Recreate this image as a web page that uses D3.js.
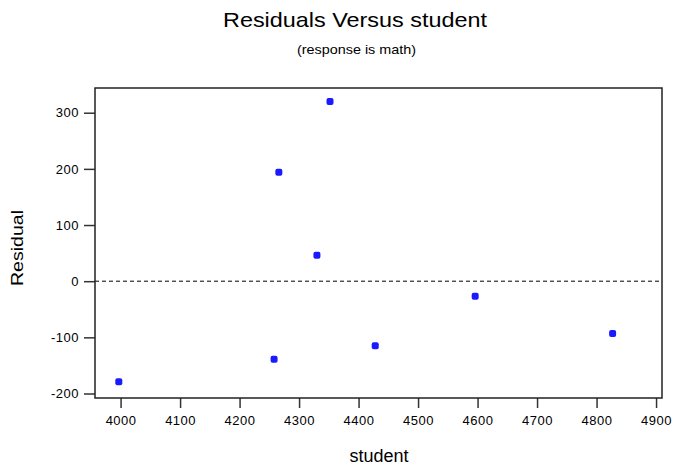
<!DOCTYPE html>
<html>
<head>
<meta charset="utf-8">
<script src="https://cdn.jsdelivr.net/npm/d3@7"></script>
<style>
  body { margin: 0; background: #fff; }
  svg { display: block; font-family: "Liberation Sans", Arial, sans-serif; }
</style>
</head>
<body>
<svg id="chart" width="675" height="471"></svg>
<script>
// data
var student = [3997, 4258, 4266, 4330, 4352, 4428, 4596, 4827];
var residual = [-179, -139, 194, 46, 320, -115, -27, -93];
var xTicks = [4000, 4100, 4200, 4300, 4400, 4500, 4600, 4700, 4800, 4900];
var yTicks = [-200, -100, 0, 100, 200, 300];

var svg = d3.select("#chart");

// plot box (window.top is reserved, so use other names)
var boxL = 95, boxR = 662, boxT = 88, boxB = 398;

var x = d3.scaleLinear().domain([3957, 4910]).range([boxL, boxR]);
var y = d3.scaleLinear().domain([-208, 344]).range([boxB, boxT]);

// titles - the original font runs wider than Arial, so stretch to width
svg.append("text")
  .attr("x", 223).attr("y", 27)
  .attr("textLength", 264)
  .attr("lengthAdjust", "spacingAndGlyphs")
  .style("font-size", "21px")
  .text("Residuals Versus student");

svg.append("text")
  .attr("x", 297).attr("y", 54)
  .attr("textLength", 119)
  .attr("lengthAdjust", "spacingAndGlyphs")
  .style("font-size", "13px")
  .text("(response is math)");

// plain hyphen for negatives, like the original
var fmt = function (d) { return String(d); };

var xAxis = svg.append("g")
  .attr("transform", "translate(0," + boxB + ")")
  .call(d3.axisBottom(x).tickValues(xTicks).tickFormat(fmt)
    .tickSize(10).tickPadding(8).tickSizeOuter(0));

var yAxis = svg.append("g")
  .attr("transform", "translate(" + boxL + ",0)")
  .call(d3.axisLeft(y).tickValues(yTicks).tickFormat(fmt)
    .tickSize(11).tickPadding(5).tickSizeOuter(0));

[xAxis, yAxis].forEach(function (a) {
  a.select(".domain").remove();
  a.selectAll("line").attr("stroke", "#333").attr("stroke-width", 1.5);
  a.selectAll("text")
    .style("font-size", "13px")
    .style("letter-spacing", "0.5px")
    .style("font-family", "'Liberation Sans', Arial, sans-serif")
    .attr("fill", "#000");
});

// zero reference line
svg.append("line")
  .attr("x1", boxL).attr("x2", boxR)
  .attr("y1", y(0)).attr("y2", y(0))
  .attr("stroke", "#000")
  .attr("stroke-width", 1)
  .attr("stroke-dasharray", "4,3");

// plot frame
svg.append("rect")
  .attr("x", boxL).attr("y", boxT)
  .attr("width", boxR - boxL).attr("height", boxB - boxT)
  .attr("fill", "none")
  .attr("stroke", "#222")
  .attr("stroke-width", 1.5);

// points
svg.append("g").selectAll("rect")
  .data(student)
  .enter()
  .append("rect")
  .attr("x", function (d) { return x(d) - 3.5; })
  .attr("y", function (d, i) { return y(residual[i]) - 3.5; })
  .attr("width", 7)
  .attr("height", 7)
  .attr("rx", 2)
  .attr("fill", "#1a1aff");

// axis labels
svg.append("text")
  .attr("x", 379).attr("y", 462)
  .attr("text-anchor", "middle")
  .style("font-size", "18px")
  .text("student");

svg.append("text")
  .attr("transform", "translate(23,248) rotate(-90)")
  .attr("text-anchor", "middle")
  .attr("textLength", 76)
  .attr("lengthAdjust", "spacingAndGlyphs")
  .style("font-size", "17px")
  .text("Residual");
</script>
</body>
</html>
